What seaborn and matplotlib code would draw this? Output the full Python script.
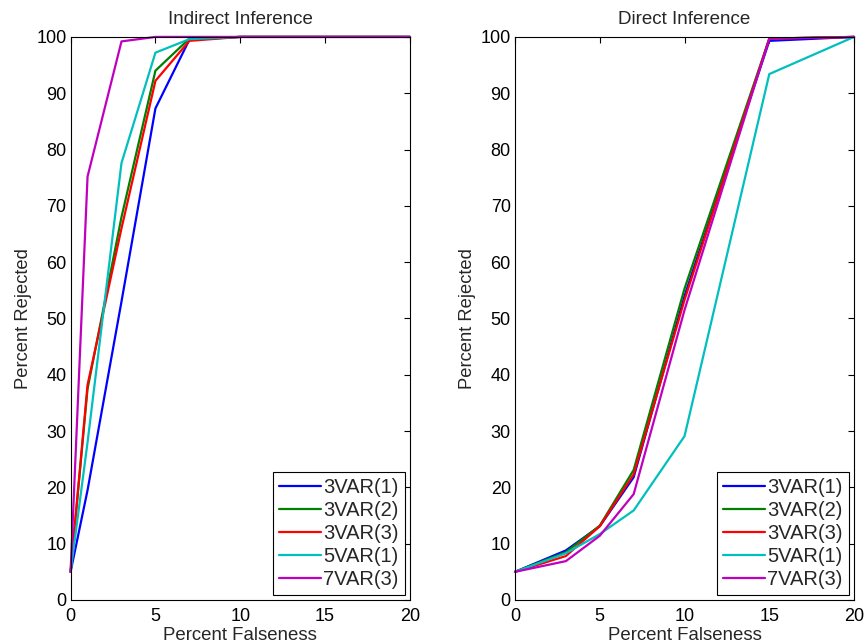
import matplotlib
matplotlib.use('Agg')

import pandas as pd
import matplotlib.pyplot as plt
import seaborn as sns

sns.set_style('white')
plt.rcParams['font.family'] = ['Liberation Sans', 'DejaVu Sans']

# percent falseness on the x axis
x_indirect = [0, 1, 3, 5, 7, 10, 15, 20]
x_direct = [0, 3, 5, 7, 10, 15, 20]

series_names = ['3VAR(1)', '3VAR(2)', '3VAR(3)', '5VAR(1)', '7VAR(3)']
colors = ['#0000ff', '#008000', '#ff0000', '#00bfbf', '#bf00bf']

# Indirect Inference, percent rejected
ind_3var1 = [5, 19.5, 53, 87.3, 99.5, 100, 100, 100]
ind_3var2 = [5, 37.5, 68, 94, 99.7, 100, 100, 100]
ind_3var3 = [5, 38.2, 66, 92.2, 99.3, 100, 100, 100]
ind_5var1 = [5, 28, 77.6, 97.2, 99.6, 100, 100, 100]
ind_7var3 = [5, 75.2, 99.2, 100, 100, 100, 100, 100]

# Direct Inference, percent rejected
dir_3var1 = [5, 8.8, 13.1, 21.8, 54, 99.3, 100]
dir_3var2 = [5, 8.5, 13.2, 23.1, 55.3, 99.7, 100]
dir_3var3 = [5, 7.8, 13.1, 22.3, 53.3, 99.7, 100]
dir_5var1 = [5, 8.3, 11.7, 15.9, 29.1, 93.4, 100]
dir_7var3 = [5, 6.9, 11.4, 18.8, 51.5, 99.7, 100]

indirect = [ind_3var1, ind_3var2, ind_3var3, ind_5var1, ind_7var3]
direct = [dir_3var1, dir_3var2, dir_3var3, dir_5var1, dir_7var3]

fig = plt.figure(figsize=(8.66, 6.43), dpi=100)
ax1 = fig.add_axes([0.0815, 0.0669, 0.3919, 0.8757])
ax2 = fig.add_axes([0.5947, 0.0669, 0.3915, 0.8757])


def draw(ax, xs, data, title):
    for name, col, ys in zip(series_names, colors, data):
        df = pd.DataFrame({'x': xs, 'y': ys})
        sns.lineplot(data=df, x='x', y='y', ax=ax, color=col, label=name,
                     linewidth=1.6, clip_on=False)
    ax.set_xlim(0, 20)
    ax.set_ylim(0, 100)
    ax.set_xticks([0, 5, 10, 15, 20])
    ax.set_yticks(range(0, 101, 10))
    ax.tick_params(direction='in', length=4, width=0.8, top=True, right=True,
                   labelsize=13, colors='black')
    ax.tick_params(axis='x', pad=6)
    ax.tick_params(axis='y', pad=3)
    for s in ax.spines.values():
        s.set_visible(True)
        s.set_color('black')
        s.set_linewidth(0.8)
    ax.set_title(title, fontsize=13.5, pad=9)
    ax.set_xlabel('Percent Falseness', fontsize=13.4, labelpad=1)
    ax.set_ylabel('Percent Rejected', fontsize=13.2, labelpad=3)
    leg = ax.legend(loc='lower right', fontsize=14.5, frameon=True, fancybox=False,
                    handlelength=2.1, handletextpad=0.1, borderpad=0.3,
                    labelspacing=0.2, borderaxespad=0.25)
    leg.get_frame().set_edgecolor('black')
    leg.get_frame().set_linewidth(0.8)
    leg.get_frame().set_alpha(1)


draw(ax1, x_indirect, indirect, 'Indirect Inference')
draw(ax2, x_direct, direct, 'Direct Inference')

fig.savefig('out.png', dpi=100)
